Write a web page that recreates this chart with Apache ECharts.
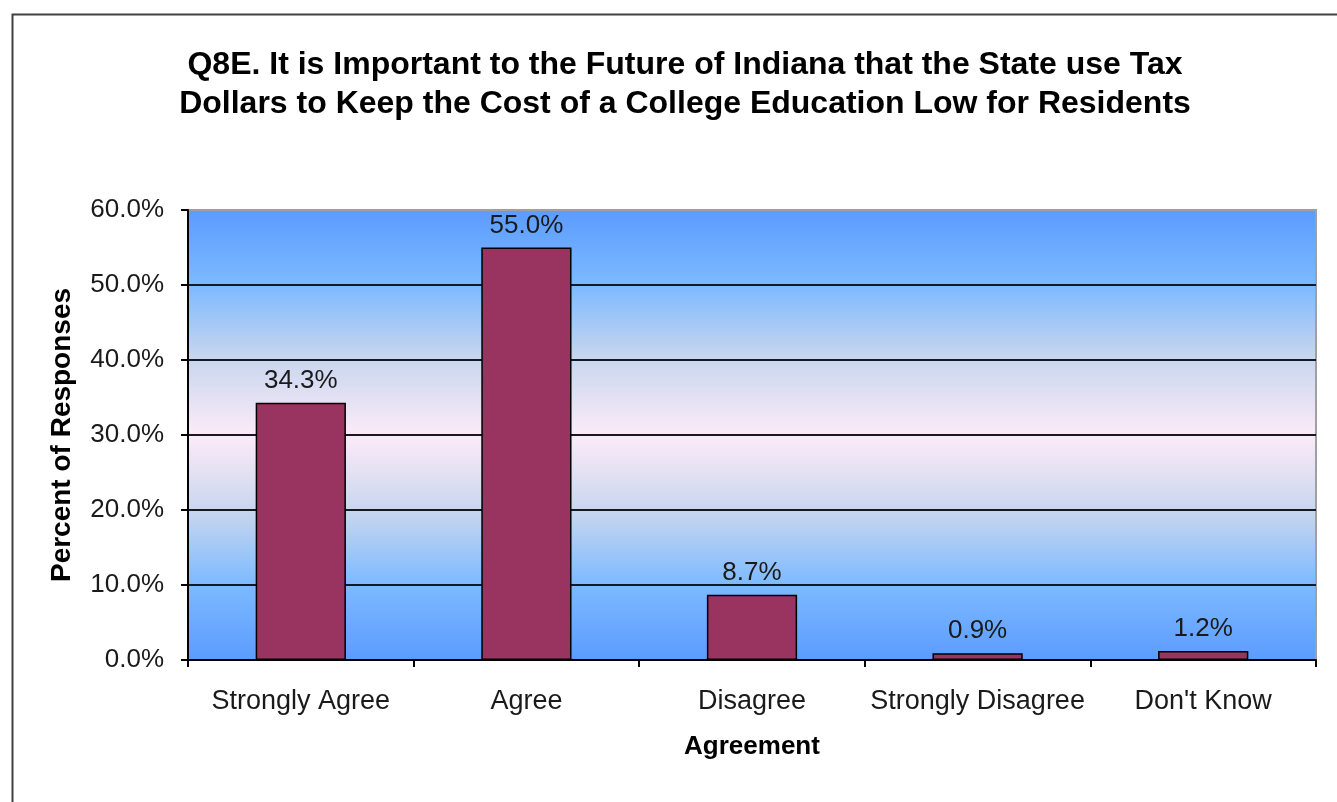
<!DOCTYPE html>
<html>
<head>
<meta charset="utf-8">
<script src="https://cdn.jsdelivr.net/npm/echarts@6/dist/echarts.min.js"></script>
<style>
html,body{margin:0;padding:0;background:#fff;}
#chart{width:1337px;height:802px;}
</style>
</head>
<body>
<div id="chart"></div>
<script>
var categories = ['Strongly Agree', 'Agree', 'Disagree', 'Strongly Disagree', "Don't Know"];
var percentValues = [34.3, 55.0, 8.7, 0.9, 1.2];
var titleLines = ['Q8E. It is Important to the Future of Indiana that the State use Tax', 'Dollars to Keep the Cost of a College Education Low for Residents'];
var xAxisName = 'Agreement';
var yAxisName = 'Percent of Responses';

var chart = echarts.init(document.getElementById('chart'), null, {renderer: 'canvas'});
var font = '"Liberation Sans", Arial, sans-serif';
var gridColors = ['#151a22', '#151a22', '#151a22', '#151a22', '#151a22', '#151a22', '#a0a0a0'];
var option = {
  backgroundColor: '#ffffff',
  animation: false,
  title: {
    text: titleLines.join('\n'),
    left: 680,
    textAlign: 'center',
    top: 41,
    textStyle: {fontFamily: font, fontSize: 32, fontWeight: 'bold', color: '#000', lineHeight: 39}
  },
  graphic: [{
    type: 'rect', left: 10, top: 12, shape: {x: 0, y: 0, width: 1400, height: 900},
    style: {fill: 'none', stroke: '#404040', lineWidth: 2}, silent: true, z: -1
  }],
  grid: {
    left: 188, right: 21, top: 210, bottom: 142,
    show: true,
    borderColor: '#a0a0a0', borderWidth: 2,
    backgroundColor: {
      type: 'linear', x: 0, y: 0, x2: 0, y2: 1,
      colorStops: [
        {offset: 0, color: '#5b9bff'},
        {offset: 0.17, color: '#7dbaff'},
        {offset: 0.33, color: '#c8d6ee'},
        {offset: 0.5, color: '#fcebf8'},
        {offset: 0.67, color: '#c8d6ee'},
        {offset: 0.83, color: '#7dbaff'},
        {offset: 1, color: '#5b9bff'}
      ]
    }
  },
  xAxis: {
    type: 'category',
    data: categories,
    name: xAxisName,
    nameLocation: 'middle',
    nameGap: 74,
    nameTextStyle: {fontFamily: font, fontSize: 26, fontWeight: 'bold', color: '#000'},
    axisLine: {lineStyle: {color: '#000', width: 2}},
    axisTick: {show: true, length: 7, lineStyle: {color: '#000', width: 2}},
    axisLabel: {interval: 0, fontFamily: font, fontSize: 27, color: '#1a1a1a', margin: 28}
  },
  yAxis: {
    type: 'value',
    min: 0, max: 60, interval: 10,
    name: yAxisName,
    nameLocation: 'middle',
    nameGap: 112,
    nameTextStyle: {fontFamily: font, fontSize: 28, fontWeight: 'bold', color: '#000'},
    axisLine: {show: true, lineStyle: {color: '#000', width: 2}},
    axisTick: {show: true, length: 7, lineStyle: {color: '#000', width: 2}},
    axisLabel: {fontFamily: font, fontSize: 26, color: '#1a1a1a', margin: 24,
      formatter: function (v) { return v.toFixed(1) + '%'; }},
    splitLine: {show: true, lineStyle: {color: gridColors, width: 2}}
  },
  series: [{
    type: 'bar',
    data: percentValues,
    barCategoryGap: '60%',
    itemStyle: {color: '#993360', borderColor: '#000', borderWidth: 1.5},
    label: {
      show: true, position: 'top', distance: 9,
      fontFamily: font, fontSize: 26, color: '#1a1a1a',
      formatter: function (p) { return p.value.toFixed(1) + '%'; }
    }
  }]
};
chart.setOption(option);
</script>
</body>
</html>
